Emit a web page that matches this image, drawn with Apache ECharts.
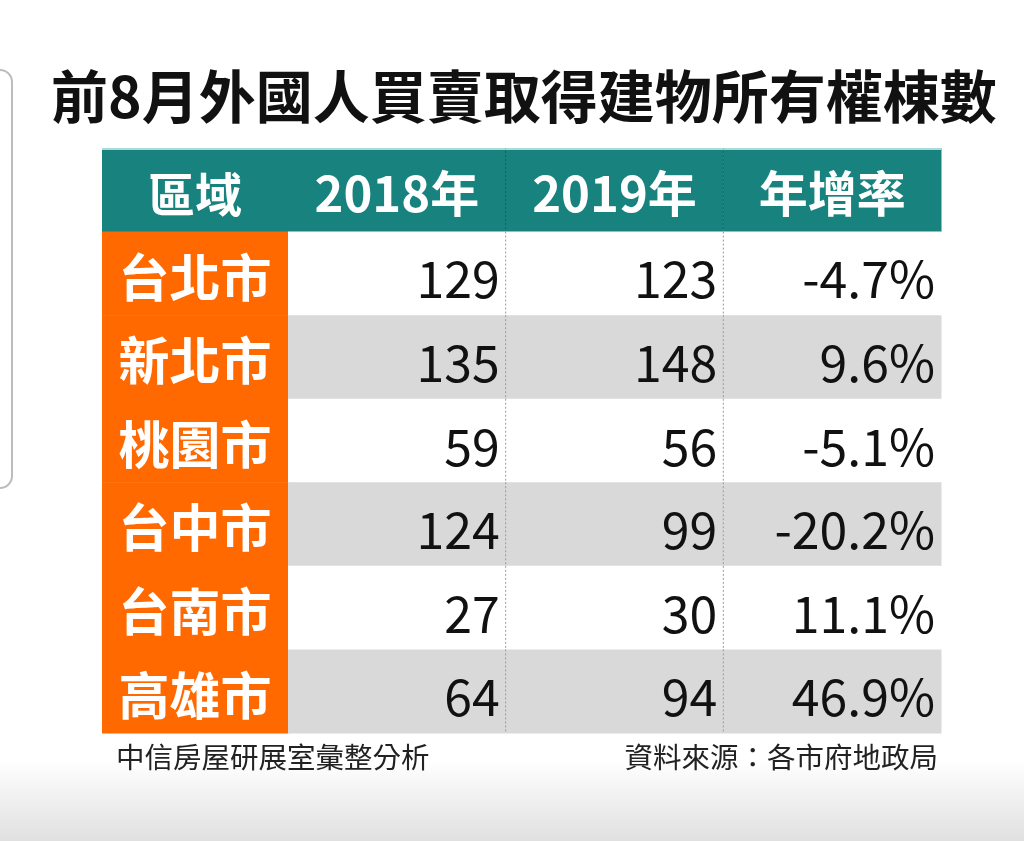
<!DOCTYPE html>
<html>
<head>
<meta charset="utf-8">
<script src="https://cdn.jsdelivr.net/npm/echarts@6/dist/echarts.min.js"></script>
<style>
  html, body { margin: 0; padding: 0; background: #fff; }
  #main { width: 1024px; height: 841px; }
</style>
</head>
<body>
<div id="main"></div>
<script>
// 表格資料
var headers = ['區域', '2018年', '2019年', '年增率'];
var regions = ['台北市', '新北市', '桃園市', '台中市', '台南市', '高雄市'];
var count2018 = [129, 135, 59, 124, 27, 64];
var count2019 = [123, 148, 56, 99, 30, 94];
var growthRate = [-4.7, 9.6, -5.1, -20.2, 11.1, 46.9];

var FONT = '"Noto Sans CJK TC", "Noto Sans CJK SC", sans-serif';
var TEAL = '#18837e';
var ORANGE = '#ff6900';
var STRIPE = '#d9d9d9';

var rowNames = ['header'].concat(regions);

// 右側三欄的儲存格文字
var numCells = [];
for (var r = 0; r < rowNames.length; r++) {
  for (var c = 0; c < 3; c++) {
    var text;
    if (r === 0) {
      text = headers[c + 1];
    } else if (c === 0) {
      text = String(count2018[r - 1]);
    } else if (c === 1) {
      text = String(count2019[r - 1]);
    } else {
      text = growthRate[r - 1].toFixed(1) + '%';
    }
    numCells.push({ value: [c, r], text: text });
  }
}

// 左側區域欄
var regionCells = [];
for (var i = 0; i < rowNames.length; i++) {
  regionCells.push({ value: [0, i], text: i === 0 ? headers[0] : regions[i - 1] });
}

function cellBox(api) {
  var p = api.coord([api.value(0), api.value(1)]);
  var s = api.size([1, 1]);
  return { x: p[0] - s[0] / 2, y: p[1] - s[1] / 2, w: s[0], h: s[1] };
}

function headLine(b) {
  return {
    type: 'line',
    shape: { x1: b.x, y1: b.y + 1, x2: b.x + b.w + 0.5, y2: b.y + 1 },
    style: { stroke: '#a9dcd8', lineWidth: 2 }
  };
}

function renderRegion(params, api) {
  var b = cellBox(api);
  var r = api.value(1);
  var cell = regionCells[params.dataIndex];
  var isHead = r === 0;
  var children = [
    {
      type: 'rect',
      shape: { x: b.x, y: b.y, width: b.w + 0.5, height: b.h + 0.5 },
      style: { fill: isHead ? TEAL : ORANGE }
    },
    {
      type: 'text',
      style: {
        text: cell.text,
        x: b.x + b.w / 2,
        y: b.y + b.h / 2 + 4,
        align: 'center',
        verticalAlign: 'middle',
        fill: '#fff',
        font: 'bold ' + (isHead ? 47 : 51) + 'px ' + FONT
      }
    }
  ];
  if (isHead) {
    children.push(headLine(b));
  }
  return { type: 'group', children: children };
}

function renderNumber(params, api) {
  var b = cellBox(api);
  var c = api.value(0);
  var r = api.value(1);
  var cell = numCells[params.dataIndex];
  var isHead = r === 0;
  var children = [
    {
      type: 'rect',
      shape: { x: b.x, y: b.y, width: b.w + 0.5, height: b.h + 0.5 },
      style: { fill: isHead ? TEAL : (r % 2 === 0 ? STRIPE : '#fff') }
    }
  ];
  if (isHead) {
    children.push(headLine(b));
  }
  if (c > 0) {
    children.push({
      type: 'line',
      shape: { x1: b.x, y1: b.y + (isHead ? 3 : 0), x2: b.x, y2: b.y + b.h },
      style: {
        stroke: isHead ? 'rgba(0,40,40,0.35)' : '#9a9a9a',
        lineWidth: 1,
        lineDash: [2, 2]
      }
    });
  }
  children.push({
    type: 'text',
    style: {
      text: cell.text,
      x: isHead ? b.x + b.w / 2 : b.x + b.w - 6,
      y: b.y + b.h / 2 + (isHead ? 4 : 6),
      align: isHead ? 'center' : 'right',
      verticalAlign: 'middle',
      fill: isHead ? '#fff' : '#111',
      font: (isHead ? 'bold 49px ' : '50px ') + FONT
    }
  });
  return { type: 'group', children: children };
}

var hiddenAxis = {
  axisLine: { show: false },
  axisTick: { show: false },
  axisLabel: { show: false },
  splitLine: { show: false }
};

var option = {
  backgroundColor: '#fff',
  animation: false,
  title: {
    text: '前8月外國人買賣取得建物所有權棟數',
    left: 51,
    top: 67,
    padding: 0,
    textStyle: {
      fontFamily: FONT,
      fontSize: 57,
      fontWeight: 'bold',
      color: '#111',
      lineHeight: 59
    }
  },
  graphic: [
    {
      type: 'rect',
      z: -10,
      shape: { x: 0, y: 760, width: 1024, height: 81 },
      style: {
        fill: {
          type: 'linear', x: 0, y: 0, x2: 0, y2: 1,
          colorStops: [
            { offset: 0, color: '#ffffff' },
            { offset: 1, color: '#e0e0e0' }
          ]
        }
      }
    },
    {
      type: 'rect',
      shape: { x: -30, y: 70, width: 42, height: 418, r: 12 },
      style: { fill: 'none', stroke: '#bcbcbc', lineWidth: 2 }
    },
    {
      type: 'text',
      style: {
        text: '中信房屋研展室彙整分析',
        x: 116, y: 757,
        align: 'left', verticalAlign: 'middle',
        fill: '#222',
        font: '28.5px ' + FONT
      }
    },
    {
      type: 'text',
      style: {
        text: '資料來源：各市府地政局',
        x: 938, y: 757,
        align: 'right', verticalAlign: 'middle',
        fill: '#222',
        font: '28.5px ' + FONT
      }
    }
  ],
  grid: [
    { left: 102, width: 186, top: 148, bottom: 108 },
    { left: 288, right: 83, top: 148, bottom: 108 }
  ],
  xAxis: [
    Object.assign({ type: 'category', gridIndex: 0, data: [headers[0]] }, hiddenAxis),
    Object.assign({ type: 'category', gridIndex: 1, data: headers.slice(1) }, hiddenAxis)
  ],
  yAxis: [
    Object.assign({ type: 'category', gridIndex: 0, inverse: true, data: rowNames }, hiddenAxis),
    Object.assign({ type: 'category', gridIndex: 1, inverse: true, data: rowNames }, hiddenAxis)
  ],
  series: [
    {
      type: 'custom',
      xAxisIndex: 0,
      yAxisIndex: 0,
      renderItem: renderRegion,
      data: regionCells.map(function (d) { return d.value; })
    },
    {
      type: 'custom',
      xAxisIndex: 1,
      yAxisIndex: 1,
      renderItem: renderNumber,
      data: numCells.map(function (d) { return d.value; })
    }
  ],
  tooltip: { show: false }
};

var chart = echarts.init(document.getElementById('main'));
chart.setOption(option);
</script>
</body>
</html>
